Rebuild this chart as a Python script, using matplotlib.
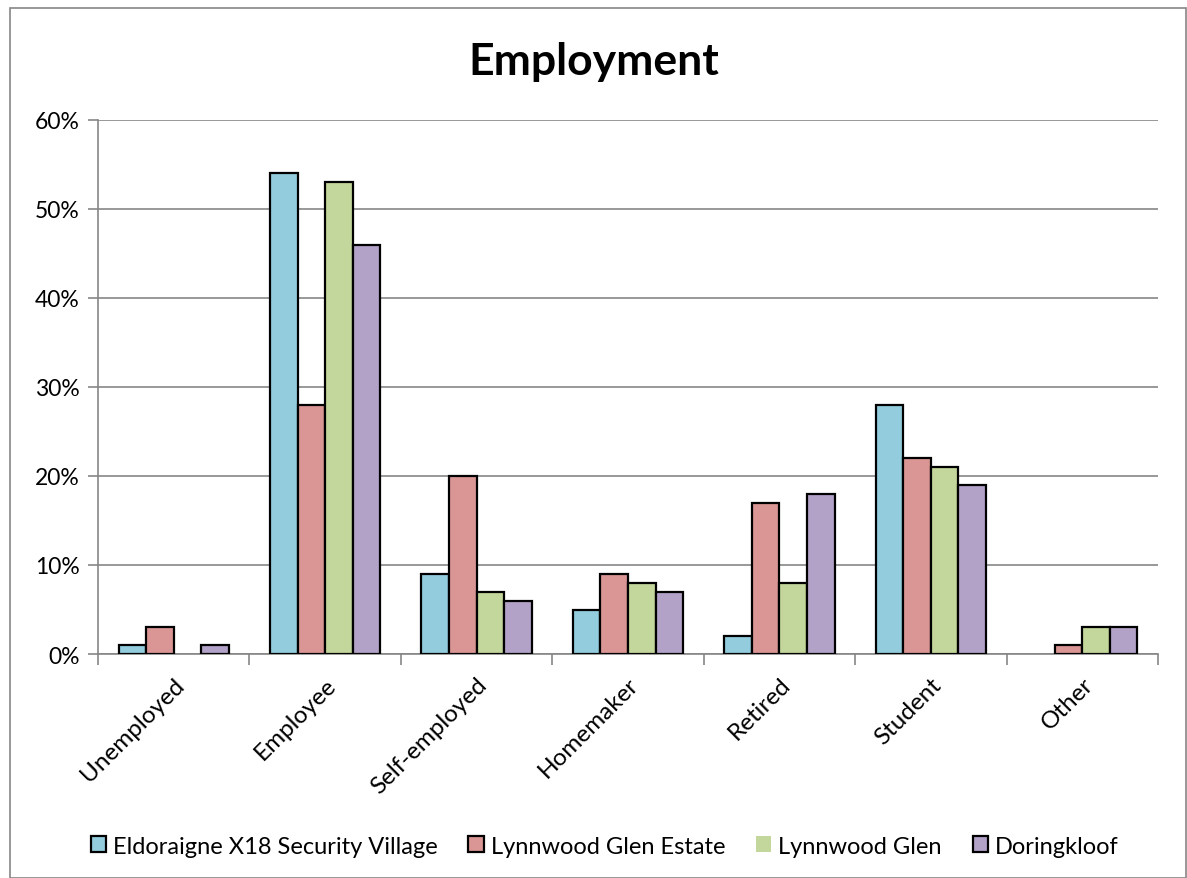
import matplotlib
matplotlib.use("Agg")
import matplotlib.pyplot as plt
from matplotlib.patches import Rectangle
from matplotlib.ticker import PercentFormatter
import numpy as np

categories = ["Unemployed", "Employee", "Self-employed", "Homemaker", "Retired", "Student", "Other"]
series_names = ["Eldoraigne X18 Security Village", "Lynnwood Glen Estate", "Lynnwood Glen", "Doringkloof"]
eldoraigne = [1, 54, 9, 5, 2, 28, 0]
lynnwood_estate = [3, 28, 20, 9, 17, 22, 1]
lynnwood_glen = [0, 53, 7, 8, 8, 21, 3]
doringkloof = [1, 46, 6, 7, 18, 19, 3]
colors = ["#93CDDD", "#D99694", "#C3D69B", "#B3A2C7"]

plt.rcParams['font.family'] = ['Lato', 'DejaVu Sans']

fig = plt.figure(figsize=(11.87, 8.79), dpi=100)
fig.patches.append(Rectangle((10/1187, 0), 1 - 10/1187 - 0.0005, 1 - 9/879, transform=fig.transFigure,
                             fill=False, edgecolor="#868686", linewidth=1.2))
ax = fig.add_axes([98/1187, 1 - 655/879, (1158 - 98)/1187, (655 - 121)/879])

x = np.arange(len(categories))
w = 0.182
all_series = [eldoraigne, lynnwood_estate, lynnwood_glen, doringkloof]
for i, (vals, name, c) in enumerate(zip(all_series, series_names, colors)):
    bars = ax.bar(x + (i - 1.5) * w, vals, width=w, color=c, edgecolor="black", linewidth=1.6,
                  label=name, zorder=3)
    for b, v in zip(bars, vals):
        if v == 0:
            b.set_linewidth(0)

ax.set_xlim(-0.5, len(categories) - 0.5)
ax.set_ylim(0, 60)
ax.set_yticks(range(0, 61, 10))
ax.yaxis.set_major_formatter(PercentFormatter(decimals=0))
ax.grid(axis="y", color="#868686", linewidth=1.2, zorder=0)
for s in ["top", "right"]:
    ax.spines[s].set_visible(False)
for s in ["left", "bottom"]:
    ax.spines[s].set_color("#868686")
    ax.spines[s].set_linewidth(1.2)
ax.tick_params(axis="y", length=7, color="#868686", width=1.2, labelsize=16.5, pad=6)
ax.set_xticks(x)
ax.set_xticklabels(categories, rotation=45, ha="right", rotation_mode="anchor", fontsize=17.5)
ax.tick_params(axis="x", length=0, pad=14)
ax.set_xticks(np.arange(-0.5, len(categories) + 0.5, 1), minor=True)
ax.tick_params(axis="x", which="minor", length=8, color="#868686", width=1.2)

fig.text(0.5, 1 - 62/879, "Employment", ha="center", va="center", fontsize=32, fontweight="bold")
leg = ax.legend(loc="center", bbox_to_anchor=(0.478, (655 - 847)/(655 - 121)), ncol=4, frameon=False,
                fontsize=17, handlelength=0.65, handleheight=0.65, handletextpad=0.3, columnspacing=1.3)

fig.savefig("out.png", dpi=100)
